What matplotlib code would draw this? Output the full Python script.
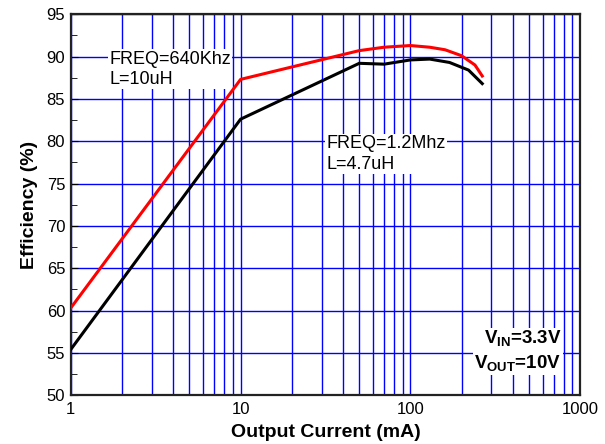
import matplotlib
matplotlib.use('Agg')
import matplotlib.pyplot as plt
from matplotlib.ticker import FixedLocator, NullFormatter

plt.rcParams['font.family'] = ['Liberation Sans', 'DejaVu Sans']
plt.rcParams['mathtext.fontset'] = 'custom'
plt.rcParams['mathtext.rm'] = 'Liberation Sans'
plt.rcParams['mathtext.bf'] = 'Liberation Sans:bold'

# Efficiency curves (current in mA, efficiency in %)
red_current = [1, 10, 50, 70, 100, 130, 160, 200, 240, 265]
red_eff = [60.3, 87.3, 90.7, 91.1, 91.3, 91.1, 90.8, 90.1, 89.0, 87.7]

black_current = [1, 10, 50, 70, 100, 130, 170, 220, 265]
black_eff = [55.4, 82.6, 89.2, 89.1, 89.6, 89.7, 89.3, 88.4, 86.8]

x_ticks = [1, 10, 100, 1000]
x_tick_labels = ['1', '10', '100', '1000']
y_ticks = [50, 55, 60, 65, 70, 75, 80, 85, 90, 95]

fig = plt.figure(figsize=(6.05, 4.44), dpi=100)
ax = fig.add_axes([0.117, 0.110, 0.842, 0.858])

ax.plot(black_current, black_eff, color='black', lw=2.2, zorder=3)
ax.plot(red_current, red_eff, color='red', lw=2.2, zorder=3)

ax.set_xscale('log')
ax.set_xlim(1, 1000)
ax.set_ylim(50, 95)
ax.set_xticks(x_ticks)
ax.set_xticklabels(x_tick_labels)
ax.xaxis.set_minor_formatter(NullFormatter())
ax.set_yticks(y_ticks)
ax.yaxis.set_minor_locator(FixedLocator([52.5 + 5 * i for i in range(9)]))

ax.grid(True, which='major', axis='y', color='blue', lw=1)
ax.grid(True, which='both', axis='x', color='blue', lw=1)
ax.tick_params(axis='both', which='both', direction='in', labelsize=12)
ax.tick_params(axis='x', which='both', length=0, pad=5)
ax.tick_params(axis='y', which='major', length=5, pad=4)
ax.tick_params(axis='y', which='minor', length=4)
for s in ax.spines.values():
    s.set_linewidth(1.6)
    s.set_color('#222222')

ax.set_xlabel('Output Current (mA)', fontsize=14, fontweight='bold', labelpad=5)
ax.set_ylabel('Efficiency (%)', fontsize=14, fontweight='bold', labelpad=6)

box = dict(facecolor='white', edgecolor='none', pad=1)
ax.text(1.68, 88.5, 'FREQ=640Khz\nL=10uH', fontsize=13, ha='left', va='center',
        bbox=box, zorder=2.5, linespacing=1.25)
ax.text(32, 78.5, 'FREQ=1.2Mhz\nL=4.7uH', fontsize=13, ha='left', va='center',
        bbox=box, zorder=2.5, linespacing=1.25)
ax.text(0.963, 0.115, 'V$_{\\mathbf{IN}}$=3.3V\nV$_{\\mathbf{OUT}}$=10V',
        transform=ax.transAxes, fontsize=13.5, fontweight='bold', ha='right', va='center',
        bbox=box, zorder=4, linespacing=1.25)

fig.savefig('out.png', dpi=100)
